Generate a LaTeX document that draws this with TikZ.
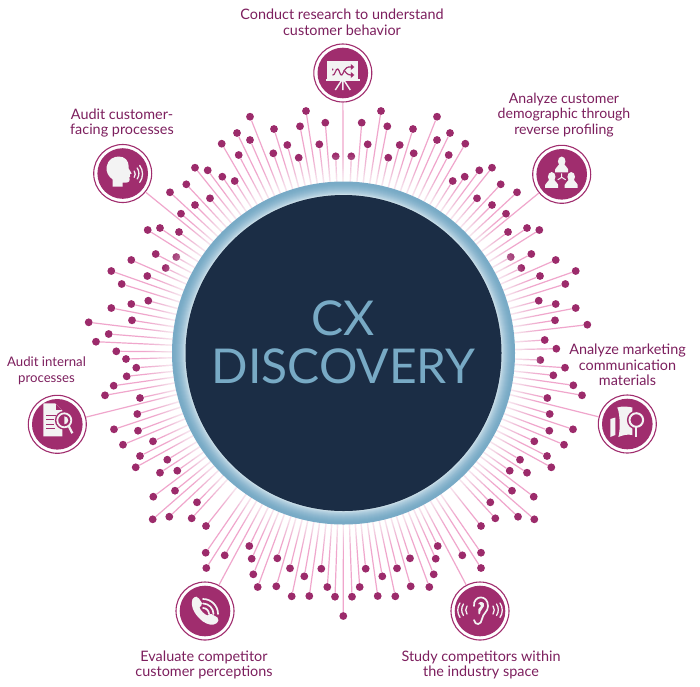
\documentclass[tikz,border=0pt]{standalone}
\usepackage{fontspec}
\setmainfont{Lato}
\definecolor{plum}{HTML}{A02D6E}
\definecolor{dotc}{HTML}{9C2B6B}
\definecolor{txt}{HTML}{7D1F5E}
\definecolor{rayc}{HTML}{F0A6CC}
\definecolor{navy}{HTML}{1B2D45}
\definecolor{steel}{HTML}{78AAC5}
\definecolor{wht}{HTML}{F3F3F3}
\definecolor{rga}{HTML}{D5E6EE}
\definecolor{rgc}{HTML}{78AAC6}
\tikzset{
 dotn/.style={circle,fill=dotc,inner sep=0pt,minimum size=7.8pt},
 ray/.style={rayc,line width=1.2pt},
 iconn/.style={circle,draw=plum,line width=1.1pt,fill=white,inner sep=0pt,minimum size=58pt},
 lab/.style={text=txt,align=center,inner sep=0pt,font=\fontsize{14.4}{15.7}\selectfont},
 ic/.style={wht},
 icl/.style={draw=wht,line width=1.5pt,line cap=round,fill=none},
}
\begin{document}
\begin{tikzpicture}[x=1pt,y=-1pt]
\useasboundingbox (0,0) rectangle (700,686);
\fill[white] (0,0) rectangle (700,686);
\coordinate (c) at (343.5,353);
% dots
\foreach \x/\y [count=\i] in {
306/111,381/111,250/116.7,437/116.7,325.3/122.7,361.7/122.7,300/126.3,387.3/126.3,274/129,413/129,
237/133,450/133,250/140,437/140,221.7/143.7,465.3/143.7,287.3/145,399.7/145,319.3/144.3,367.7/144.3,
273.3/153.3,413.7/153.3,238.7/155,448.7/155,298.7/157.7,388.3/157.7,335.7/156.3,351.3/156.3,
195/167.7,492/167.7,207.7/170.3,479.3/170.3,222.3/176.7,464.7/176.7,234.7/181,452.7/181,186.3/184.3,500.7/184.3,
170/192.3,517/192.3,210/198.3,477/198.3,195/205,492/205,181/213.7,506/213.7,147.7/230,539.3/230,160/228,527/228,179/232,508/232,
155.7/254,531.3/254,176.3/257,510.7/257,131.3/260,555.7/260,165.7/268,521.3/268,111.3/271,575.7/271,147.3/276,540/276,121.7/284,565.3/284,
148.3/300.7,538.7/300.7,131.3/304,555.7/304,111.3/308,575.7/308,132/320.3,555/320.3,88.7/322.3,587.3/324.7,
108.7/334,96/341.7,116.3/351.3,126/359,136.3/367.7,126.7/376.3,113.7/385.7,105/395.3,
544.7/340,556.3/348.7,540.3/360,565/367.7,553.3/375.3,573.3/385.3,582/395.3,
140/398,547.3/398,137.3/414,549.7/414,114/429.3,573/429.3,138/430.7,549.3/430.7,123/444.7,564/444.7,153/441.3,534.3/441.3,
140/456,547/456,135.7/467.3,551.3/467.3,167.3/459.7,520/459.7,160/472.7,527/472.7,177.3/470.7,509.7/470.7,
175/490.7,512/490.7,153.3/496.7,533.7/496.7,197/502.3,490.3/502.3,169.3/516.7,518/516.7,152.7/519.3,534.3/519.3,191.7/518.3,495.3/518.3,206/526,481/526,
205.7/552.7,481/552.7,224.7/555.3,462.3/555.3,206.3/568,481/568,
249.3/546,437.7/546,251.7/558.7,435.7/558.7,277.3/558.3,410/558.3,290/568.3,397/568.3,253.3/574.3,433.7/574.3,257.7/587,429.3/587,
276.3/586.3,410.7/586.3,304.3/576.3,382.3/576.3,321.3/568.7,365.7/568.7,327.3/587,359.7/587,291.7/596.3,395.3/596.3,309.3/596,377.7/596,
335/596.7,352/596.7,343.3/616}
{ \node[dotn] (d\i) at (\x,\y) {}; \draw[ray] (c) -- (d\i); }
% icon discs
\node[iconn] (i1) at (342.8,73) {};
\node[iconn] (i2) at (122.7,173.5) {};
\node[iconn] (i3) at (561.7,174.3) {};
\node[iconn] (i4) at (627.3,424) {};
\node[iconn] (i5) at (480,611) {};
\node[iconn] (i6) at (205,611) {};
\node[iconn] (i7) at (57.3,424.3) {};
\foreach \k in {1,...,7} { \draw[ray] (c) -- (i\k); }
% whitening halo round the ring
\foreach \r in {172,174,...,184} { \fill[white,opacity=.14] (c) circle (\r); }
\foreach \r in {186,188,...,198} { \fill[white,opacity=.06] (c) circle (\r); }
% ring and disc
\foreach \r/\m in {171.5/100,170.5/100,169.5/97,168.5/94,167.5/89,166.5/84,165.5/78,164.5/71,163.5/63,162.5/55,161.5/46,160.5/36,159.5/25,158.8/10}
 { \fill[rgc!\m!rga] (c) circle (\r); }
\fill[navy] (c) circle (158);
\node[text=steel,align=center,inner sep=0pt,font=\fontsize{48}{47.8}\selectfont] (title) at (343.5,342) {CX\\DISCOVERY};
% icons: inner discs
\foreach \k in {1,...,7} { \fill[plum] (i\k) circle (25.3); }
% icon 1: board
\begin{scope}[shift={(342.8,73)}]
\fill[ic] (-15.5,-12) rectangle (15.5,6);
\fill[ic] (-17,6) rectangle (17,7.6);
\draw[wht,line width=1.4pt] (0,7) -- (0,17) (-1,7) -- (-7.5,17) (1,7) -- (7.5,17);
\draw[plum,line width=1.2pt,line cap=round] (-10,-4) -- (-10,-3) (-10,2) .. controls (-8,3) and (-7,-5) .. (-5,-4) .. controls (-3,-3) and (-3,3) .. (-1,2) .. controls (1,1) and (1,-7) .. (8,-6);
\draw[plum,line width=1.2pt] (1,-3) .. controls (3,-1) and (4,2) .. (8,2);
\fill[plum] (8,-9) -- (11.5,-6) -- (8,-3) -- cycle (8,-1) -- (11.5,2) -- (8,5) -- cycle;
\end{scope}
% icon 2: head
\begin{scope}[shift={(122.7,173.5)}]
\fill[ic] (-10,13) -- (-10,6) .. controls (-14,3) and (-17,-1) .. (-16,-7) .. controls (-15,-14) and (-9,-17) .. (-4,-17) .. controls (2,-17) and (6,-13) .. (6,-7) -- (6,-5) -- (9,0) -- (7,1) -- (7.5,3) -- (6.5,4) -- (7,6) .. controls (7,9) and (4,9.5) .. (0,9) -- (0,13) -- cycle;
\draw[icl,line width=1.3pt] (14.5,-5.5) arc (-35:35:9.5) (17,-8) arc (-37:37:14) (11.5,-2.5) arc (-35:35:5.5);
\end{scope}
% icon 3: people
\begin{scope}[shift={(561.7,174.3)}]
\foreach \a/\b in {0/-13,-10/2.5,9.5/2.5}{
 \fill[ic] (\a,\b) ellipse (3.8 and 4.8);
 \fill[ic] (\a-6.5,\b+11) -- (\a-6.5,\b+8) .. controls (\a-6.5,\b+5.5) and (\a-3,\b+5.5) .. (\a-2.5,\b+3) -- (\a+2.5,\b+3) .. controls (\a+3,\b+5.5) and (\a+6.5,\b+5.5) .. (\a+6.5,\b+8) -- (\a+6.5,\b+11) -- cycle;
}
\draw[wht,line width=1pt] (0,-1) -- (0,3) -- (-4,5.5) (0,3) -- (4,5.5);
\end{scope}
% icon 4: book and lens
\begin{scope}[shift={(627.3,424)}]
\fill[ic] (-17,-5) -- (-12,-6.5) -- (-12,11) -- (-17,13) -- cycle;
\fill[ic] (-10,-16.5) .. controls (-5,-18) and (1,-17.5) .. (5,-16.5) -- (5,11) .. controls (0,10) and (-4,11) .. (-9,13) .. controls (-7,8) and (-7,-10) .. (-10,-16.5) -- cycle;
\fill[plum] (9,-4) circle (9.4);
\fill[plum] (6.5,3) rectangle (11.5,14);
\draw[wht,line width=2pt] (9,-4) circle (6.8);
\draw[wht,line width=2pt] (9,3) -- (9,13);
\end{scope}
% icon 5: ear
\begin{scope}[shift={(480,611)}]
\draw[icl,line width=1.7pt] (-6,-5) .. controls (-7,-16) and (8,-17) .. (8,-5) .. controls (8,1) and (3,2) .. (2,8) .. controls (1.5,14) and (-5,15) .. (-6,9);
\fill[ic] (-2,-7) .. controls (0,-11) and (5,-9) .. (4,-5) .. controls (3,-2) and (0,-1) .. (0,3) .. controls (-2,5) and (-2,0) .. (-1.5,-2) -- (1,-5) .. controls (1,-7) and (-1,-7) .. (-2,-7) -- cycle;
\draw[icl,line width=1.3pt] (13,-5) arc (-35:35:7) (16.5,-7) arc (-35:35:10) (20,-8) arc (-35:35:12.5);
\draw[icl,line width=1.3pt] (-13,-5) arc (215:145:7) (-16.5,-7) arc (215:145:10) (-20,-8) arc (215:145:12.5);
\end{scope}
% icon 6: phone
\begin{scope}[shift={(205,611)}]
\fill[ic] (-12.5,-12) .. controls (-10,-15) and (-7,-15) .. (-6,-12.5) -- (-3,-8) .. controls (-2.5,-6) and (-4.5,-5) .. (-5.5,-3.5) .. controls (-4,0) and (-1,3) .. (2.5,4.5) .. controls (4,3.5) and (5,2.5) .. (6.5,3) -- (12.5,6.5) .. controls (14.5,8) and (13.5,10.5) .. (11,12.5) .. controls (8,14.5) and (3,14) .. (-2,10.5) .. controls (-8,6) and (-15.5,-3) .. (-12.5,-12) -- cycle;
\draw[icl,line width=1.7pt] (-2,-3) arc (-90:0:6) (-2,-7.5) arc (-90:0:10.5) (-2,-12) arc (-90:0:15);
\end{scope}
% icon 7: document and lens
\begin{scope}[shift={(57.3,424.3)}]
\fill[ic] (-14,-21) -- (-2,-21) -- (5,-14) -- (5,12) -- (-14,12) -- cycle;
\fill[plum] (-2,-21) -- (-2,-14) -- (5,-14) -- cycle;
\draw[wht,line width=.8pt] (-1.8,-20.5) -- (-1.8,-14.2) -- (4.5,-14.2);
\draw[plum,line width=1pt] (-11,-9) -- (-1,-9) (-11,-4.5) -- (-3,-4.5) (-11,0) -- (-3,0) (-11,4.5) -- (-2,4.5);
\fill[plum] (7,-4) circle (9.4);
\draw[plum,line width=4pt] (11.5,2) -- (15.5,10);
\draw[wht,line width=1.8pt] (7,-4) circle (7);
\fill[wht] (7,-8) arc (-90:90:4) -- cycle;
\draw[wht,line width=2.2pt] (11.5,2) -- (15,9);
\end{scope}
% labels
\node[lab] (l1) at (342,22.5) {Conduct research to understand\\customer behavior};
\node[lab] (l2) at (122,123) {Audit customer-\\facing processes};
\node[lab,font=\fontsize{14.1}{15.7}\selectfont] (l3) at (564,115) {Analyze customer\\demographic through\\reverse profiling};
\node[lab] (l4) at (627.5,365) {Analyze marketing\\communication\\materials};
\node[lab,font=\fontsize{13.2}{15.7}\selectfont] (l5) at (46.5,371) {Audit internal\\processes};
\node[lab] (l6) at (204,665) {Evaluate competitor\\customer perceptions};
\node[lab] (l7) at (481,665) {Study competitors within\\the industry space};
\end{tikzpicture}
\end{document}
